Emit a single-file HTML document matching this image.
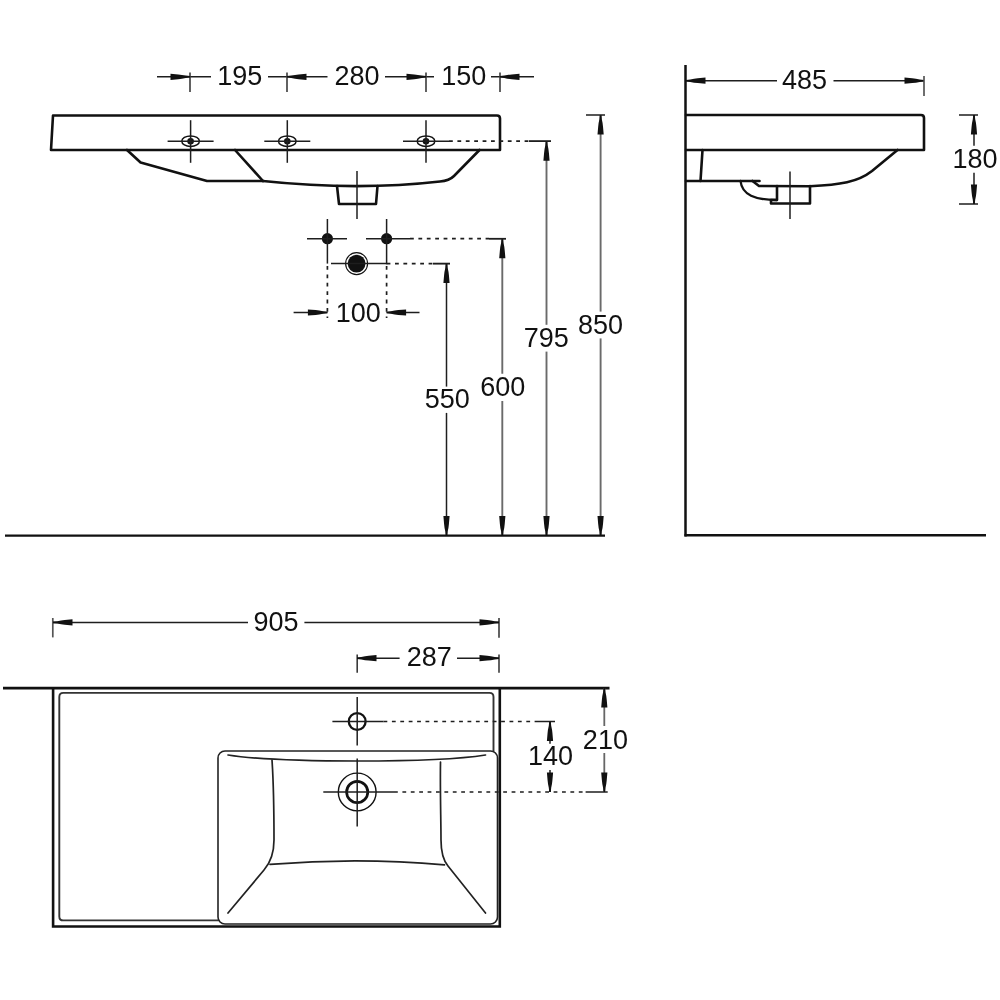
<!DOCTYPE html>
<html><head><meta charset="utf-8"><style>
html,body{margin:0;padding:0;background:#fff;width:1000px;height:1000px;overflow:hidden}
svg{display:block;will-change:transform}
text{font-family:"Liberation Sans",sans-serif}
</style></head><body>
<svg width="1000" height="1000" viewBox="0 0 1000 1000">
<rect width="1000" height="1000" fill="#fff"/>
<path d="M53,115.5 L497,115.5 Q500,115.5 500,118.5 L500,150 L51,150 Z" stroke="#111" stroke-width="2.6" fill="none" stroke-linejoin="round" stroke-linecap="round"/>
<path d="M127,150 L140.6,162.5 L207,181 L263,181" stroke="#111" stroke-width="2.6" fill="none" stroke-linejoin="round" stroke-linecap="round"/>
<path d="M235,150 L263,181" stroke="#111" stroke-width="2.6" fill="none" stroke-linejoin="round" stroke-linecap="round"/>
<path d="M263,181 Q357,191 440,181.5 C446,181 450,180 454,176 L479.5,150" stroke="#111" stroke-width="2.6" fill="none" stroke-linejoin="round" stroke-linecap="round"/>
<path d="M337,186 L339,204 L376,204 L377.5,186" stroke="#111" stroke-width="2.6" fill="none" stroke-linejoin="round" stroke-linecap="round"/>
<line x1="357" y1="171" x2="357" y2="219" stroke="#1e1e1e" stroke-width="1.5" stroke-linecap="butt"/>
<ellipse cx="190.6" cy="141.2" rx="8.8" ry="5.3" stroke="#111" stroke-width="1.5" fill="none"/>
<circle cx="190.6" cy="141.2" r="3.3" stroke="#111" stroke-width="0" fill="#111"/>
<line x1="167.6" y1="141.2" x2="213.6" y2="141.2" stroke="#1e1e1e" stroke-width="1.5" stroke-linecap="butt"/>
<line x1="190.6" y1="120.2" x2="190.6" y2="162.8" stroke="#1e1e1e" stroke-width="1.5" stroke-linecap="butt"/>
<ellipse cx="287.3" cy="141.2" rx="8.8" ry="5.3" stroke="#111" stroke-width="1.5" fill="none"/>
<circle cx="287.3" cy="141.2" r="3.3" stroke="#111" stroke-width="0" fill="#111"/>
<line x1="264.3" y1="141.2" x2="310.3" y2="141.2" stroke="#1e1e1e" stroke-width="1.5" stroke-linecap="butt"/>
<line x1="287.3" y1="120.2" x2="287.3" y2="162.8" stroke="#1e1e1e" stroke-width="1.5" stroke-linecap="butt"/>
<ellipse cx="426" cy="141.2" rx="8.8" ry="5.3" stroke="#111" stroke-width="1.5" fill="none"/>
<circle cx="426" cy="141.2" r="3.3" stroke="#111" stroke-width="0" fill="#111"/>
<line x1="403" y1="141.2" x2="449" y2="141.2" stroke="#1e1e1e" stroke-width="1.5" stroke-linecap="butt"/>
<line x1="426" y1="120.2" x2="426" y2="162.8" stroke="#1e1e1e" stroke-width="1.5" stroke-linecap="butt"/>
<line x1="449" y1="141.2" x2="529" y2="141.2" stroke="#1e1e1e" stroke-width="1.7" stroke-linecap="butt" stroke-dasharray="3.8 4.6"/>
<line x1="529" y1="141.2" x2="551" y2="141.2" stroke="#1e1e1e" stroke-width="1.5" stroke-linecap="butt"/>
<line x1="157" y1="76.8" x2="211" y2="76.8" stroke="#1e1e1e" stroke-width="1.5" stroke-linecap="butt"/>
<line x1="268" y1="76.8" x2="327.5" y2="76.8" stroke="#1e1e1e" stroke-width="1.5" stroke-linecap="butt"/>
<line x1="385" y1="76.8" x2="434" y2="76.8" stroke="#1e1e1e" stroke-width="1.5" stroke-linecap="butt"/>
<line x1="491" y1="76.8" x2="534" y2="76.8" stroke="#1e1e1e" stroke-width="1.5" stroke-linecap="butt"/>
<line x1="190" y1="72.4" x2="190" y2="92" stroke="#3a3a3a" stroke-width="1.6" stroke-linecap="butt"/>
<line x1="287" y1="72.4" x2="287" y2="92" stroke="#3a3a3a" stroke-width="1.6" stroke-linecap="butt"/>
<line x1="426" y1="72.4" x2="426" y2="92" stroke="#3a3a3a" stroke-width="1.6" stroke-linecap="butt"/>
<line x1="500" y1="72.4" x2="500" y2="92" stroke="#3a3a3a" stroke-width="1.6" stroke-linecap="butt"/>
<path d="M0,-0.8 L4.29,-1.2 Q8.19,-2.17 11.70,-2.42 L19.5,-3.10 L19.5,3.10 L11.70,2.42 Q8.19,2.17 4.29,1.2 L0,0.8Z" fill="#111" transform="translate(190,76.8) rotate(180.0)"/>
<path d="M0,-0.8 L4.29,-1.2 Q8.19,-2.17 11.70,-2.42 L19.5,-3.10 L19.5,3.10 L11.70,2.42 Q8.19,2.17 4.29,1.2 L0,0.8Z" fill="#111" transform="translate(287,76.8) rotate(0.0)"/>
<path d="M0,-0.8 L4.29,-1.2 Q8.19,-2.17 11.70,-2.42 L19.5,-3.10 L19.5,3.10 L11.70,2.42 Q8.19,2.17 4.29,1.2 L0,0.8Z" fill="#111" transform="translate(426,76.8) rotate(180.0)"/>
<path d="M0,-0.8 L4.29,-1.2 Q8.19,-2.17 11.70,-2.42 L19.5,-3.10 L19.5,3.10 L11.70,2.42 Q8.19,2.17 4.29,1.2 L0,0.8Z" fill="#111" transform="translate(500,76.8) rotate(0.0)"/>
<text x="239.7" y="85.2" text-anchor="middle" font-family="Liberation Sans" font-size="27" fill="#111">195</text>
<text x="357" y="85.2" text-anchor="middle" font-family="Liberation Sans" font-size="27" fill="#111">280</text>
<text x="463.75" y="85.2" text-anchor="middle" font-family="Liberation Sans" font-size="27" fill="#111">150</text>
<circle cx="327.4" cy="238.7" r="5.6" stroke="#111" stroke-width="0" fill="#111"/>
<circle cx="386.6" cy="238.7" r="5.6" stroke="#111" stroke-width="0" fill="#111"/>
<line x1="307" y1="238.7" x2="347" y2="238.7" stroke="#1e1e1e" stroke-width="1.5" stroke-linecap="butt"/>
<line x1="366" y1="238.7" x2="410" y2="238.7" stroke="#1e1e1e" stroke-width="1.5" stroke-linecap="butt"/>
<line x1="410" y1="238.7" x2="489" y2="238.7" stroke="#1e1e1e" stroke-width="1.7" stroke-linecap="butt" stroke-dasharray="3.8 4.6"/>
<line x1="489" y1="238.7" x2="506" y2="238.7" stroke="#1e1e1e" stroke-width="1.5" stroke-linecap="butt"/>
<line x1="327.4" y1="219" x2="327.4" y2="263.6" stroke="#1e1e1e" stroke-width="1.5" stroke-linecap="butt"/>
<line x1="386.6" y1="219" x2="386.6" y2="264.3" stroke="#1e1e1e" stroke-width="1.5" stroke-linecap="butt"/>
<line x1="327.4" y1="266" x2="327.4" y2="318" stroke="#1e1e1e" stroke-width="1.7" stroke-linecap="butt" stroke-dasharray="3.8 4.6"/>
<line x1="386.6" y1="266" x2="386.6" y2="318" stroke="#1e1e1e" stroke-width="1.7" stroke-linecap="butt" stroke-dasharray="3.8 4.6"/>
<circle cx="356.6" cy="263.6" r="11.0" stroke="#111" stroke-width="1.1" fill="none"/>
<circle cx="356.6" cy="263.6" r="8.9" stroke="#111" stroke-width="0" fill="#111"/>
<line x1="331" y1="263.6" x2="386.6" y2="263.6" stroke="#1e1e1e" stroke-width="1.5" stroke-linecap="butt"/>
<line x1="386.6" y1="263.6" x2="433" y2="263.6" stroke="#1e1e1e" stroke-width="1.7" stroke-linecap="butt" stroke-dasharray="3.8 4.6"/>
<line x1="433" y1="263.6" x2="450" y2="263.6" stroke="#1e1e1e" stroke-width="1.5" stroke-linecap="butt"/>
<line x1="293.6" y1="312.5" x2="327.4" y2="312.5" stroke="#1e1e1e" stroke-width="1.5" stroke-linecap="butt"/>
<line x1="386.6" y1="312.5" x2="419.5" y2="312.5" stroke="#1e1e1e" stroke-width="1.5" stroke-linecap="butt"/>
<path d="M0,-0.8 L4.29,-1.2 Q8.19,-2.17 11.70,-2.42 L19.5,-3.10 L19.5,3.10 L11.70,2.42 Q8.19,2.17 4.29,1.2 L0,0.8Z" fill="#111" transform="translate(327.4,312.5) rotate(180.0)"/>
<path d="M0,-0.8 L4.29,-1.2 Q8.19,-2.17 11.70,-2.42 L19.5,-3.10 L19.5,3.10 L11.70,2.42 Q8.19,2.17 4.29,1.2 L0,0.8Z" fill="#111" transform="translate(386.6,312.5) rotate(0.0)"/>
<text x="358.2" y="321.6" text-anchor="middle" font-family="Liberation Sans" font-size="27" fill="#111">100</text>
<line x1="446.5" y1="263.6" x2="446.5" y2="386.6" stroke="#1e1e1e" stroke-width="1.5" stroke-linecap="butt"/>
<line x1="446.5" y1="412.9" x2="446.5" y2="535.6" stroke="#1e1e1e" stroke-width="1.5" stroke-linecap="butt"/>
<path d="M0,-0.8 L4.29,-1.2 Q8.19,-2.17 11.70,-2.42 L19.5,-3.10 L19.5,3.10 L11.70,2.42 Q8.19,2.17 4.29,1.2 L0,0.8Z" fill="#111" transform="translate(446.5,263.6) rotate(90.0)"/>
<path d="M0,-0.8 L4.29,-1.2 Q8.19,-2.17 11.70,-2.42 L19.5,-3.10 L19.5,3.10 L11.70,2.42 Q8.19,2.17 4.29,1.2 L0,0.8Z" fill="#111" transform="translate(446.5,535.6) rotate(-90.0)"/>
<line x1="433" y1="263.6" x2="450" y2="263.6" stroke="#1e1e1e" stroke-width="1.5" stroke-linecap="butt"/>
<text x="447.2" y="407.6" text-anchor="middle" font-family="Liberation Sans" font-size="27" fill="#111">550</text>
<line x1="502.3" y1="238.7" x2="502.3" y2="373.75" stroke="#6a6a6a" stroke-width="1.9" stroke-linecap="butt"/>
<line x1="502.3" y1="401" x2="502.3" y2="535.6" stroke="#6a6a6a" stroke-width="1.9" stroke-linecap="butt"/>
<path d="M0,-0.8 L4.29,-1.2 Q8.19,-2.17 11.70,-2.42 L19.5,-3.10 L19.5,3.10 L11.70,2.42 Q8.19,2.17 4.29,1.2 L0,0.8Z" fill="#111" transform="translate(502.3,238.7) rotate(90.0)"/>
<path d="M0,-0.8 L4.29,-1.2 Q8.19,-2.17 11.70,-2.42 L19.5,-3.10 L19.5,3.10 L11.70,2.42 Q8.19,2.17 4.29,1.2 L0,0.8Z" fill="#111" transform="translate(502.3,535.6) rotate(-90.0)"/>
<line x1="489" y1="238.7" x2="506" y2="238.7" stroke="#1e1e1e" stroke-width="1.5" stroke-linecap="butt"/>
<text x="502.7" y="395.8" text-anchor="middle" font-family="Liberation Sans" font-size="27" fill="#111">600</text>
<line x1="546.5" y1="141.2" x2="546.5" y2="324.8" stroke="#6a6a6a" stroke-width="1.9" stroke-linecap="butt"/>
<line x1="546.5" y1="351.6" x2="546.5" y2="535.6" stroke="#6a6a6a" stroke-width="1.9" stroke-linecap="butt"/>
<path d="M0,-0.8 L4.29,-1.2 Q8.19,-2.17 11.70,-2.42 L19.5,-3.10 L19.5,3.10 L11.70,2.42 Q8.19,2.17 4.29,1.2 L0,0.8Z" fill="#111" transform="translate(546.5,141.2) rotate(90.0)"/>
<path d="M0,-0.8 L4.29,-1.2 Q8.19,-2.17 11.70,-2.42 L19.5,-3.10 L19.5,3.10 L11.70,2.42 Q8.19,2.17 4.29,1.2 L0,0.8Z" fill="#111" transform="translate(546.5,535.6) rotate(-90.0)"/>
<line x1="529" y1="141.2" x2="551" y2="141.2" stroke="#1e1e1e" stroke-width="1.5" stroke-linecap="butt"/>
<text x="546.3" y="346.5" text-anchor="middle" font-family="Liberation Sans" font-size="27" fill="#111">795</text>
<line x1="600.6" y1="115" x2="600.6" y2="311.6" stroke="#6a6a6a" stroke-width="1.9" stroke-linecap="butt"/>
<line x1="600.6" y1="338.4" x2="600.6" y2="535.6" stroke="#6a6a6a" stroke-width="1.9" stroke-linecap="butt"/>
<path d="M0,-0.8 L4.29,-1.2 Q8.19,-2.17 11.70,-2.42 L19.5,-3.10 L19.5,3.10 L11.70,2.42 Q8.19,2.17 4.29,1.2 L0,0.8Z" fill="#111" transform="translate(600.6,115) rotate(90.0)"/>
<path d="M0,-0.8 L4.29,-1.2 Q8.19,-2.17 11.70,-2.42 L19.5,-3.10 L19.5,3.10 L11.70,2.42 Q8.19,2.17 4.29,1.2 L0,0.8Z" fill="#111" transform="translate(600.6,535.6) rotate(-90.0)"/>
<line x1="586" y1="115" x2="605" y2="115" stroke="#1e1e1e" stroke-width="1.5" stroke-linecap="butt"/>
<text x="600.5" y="333.7" text-anchor="middle" font-family="Liberation Sans" font-size="27" fill="#111">850</text>
<line x1="5" y1="535.6" x2="605" y2="535.6" stroke="#111" stroke-width="2.4" stroke-linecap="butt"/>
<line x1="685.5" y1="65" x2="685.5" y2="536.5" stroke="#111" stroke-width="2.5" stroke-linecap="butt"/>
<line x1="684.5" y1="535.3" x2="986" y2="535.3" stroke="#111" stroke-width="2.5" stroke-linecap="butt"/>
<path d="M686,115 L921,115 Q924,115 924,118 L924,150 L686,150" stroke="#111" stroke-width="2.6" fill="none" stroke-linejoin="round" stroke-linecap="round"/>
<path d="M702.5,150 L700.5,181" stroke="#111" stroke-width="2.6" fill="none" stroke-linejoin="round" stroke-linecap="round"/>
<path d="M686,181 L759.5,181" stroke="#111" stroke-width="2.6" fill="none" stroke-linejoin="round" stroke-linecap="round"/>
<path d="M752.5,181 L759,186 L810,186.2 C840,185 858,182 872,171 L897.5,150" stroke="#111" stroke-width="2.6" fill="none" stroke-linejoin="round" stroke-linecap="round"/>
<path d="M740.5,181 C742,195 755,200 777,200" stroke="#111" stroke-width="2.3" fill="none" stroke-linejoin="round" stroke-linecap="round"/>
<path d="M777,186 L777,200 L771,200 L771,203.5 L810,203.5 L810,186" stroke="#111" stroke-width="2.6" fill="none" stroke-linejoin="round" stroke-linecap="round"/>
<line x1="790" y1="171.5" x2="790" y2="219" stroke="#1e1e1e" stroke-width="1.5" stroke-linecap="butt"/>
<line x1="686" y1="80.7" x2="777" y2="80.7" stroke="#1e1e1e" stroke-width="1.5" stroke-linecap="butt"/>
<line x1="833.5" y1="80.7" x2="924" y2="80.7" stroke="#1e1e1e" stroke-width="1.5" stroke-linecap="butt"/>
<path d="M0,-0.8 L4.29,-1.2 Q8.19,-2.17 11.70,-2.42 L19.5,-3.10 L19.5,3.10 L11.70,2.42 Q8.19,2.17 4.29,1.2 L0,0.8Z" fill="#111" transform="translate(686,80.7) rotate(0.0)"/>
<path d="M0,-0.8 L4.29,-1.2 Q8.19,-2.17 11.70,-2.42 L19.5,-3.10 L19.5,3.10 L11.70,2.42 Q8.19,2.17 4.29,1.2 L0,0.8Z" fill="#111" transform="translate(924,80.7) rotate(180.0)"/>
<line x1="924" y1="76" x2="924" y2="96" stroke="#4a4a4a" stroke-width="1.6" stroke-linecap="butt"/>
<text x="804.5" y="88.7" text-anchor="middle" font-family="Liberation Sans" font-size="27" fill="#111">485</text>
<line x1="959" y1="115" x2="978" y2="115" stroke="#1e1e1e" stroke-width="1.5" stroke-linecap="butt"/>
<line x1="959" y1="204" x2="978" y2="204" stroke="#1e1e1e" stroke-width="1.5" stroke-linecap="butt"/>
<line x1="974" y1="115" x2="974" y2="145.7" stroke="#1e1e1e" stroke-width="1.5" stroke-linecap="butt"/>
<line x1="974" y1="172.7" x2="974" y2="204" stroke="#1e1e1e" stroke-width="1.5" stroke-linecap="butt"/>
<path d="M0,-0.8 L4.29,-1.2 Q8.19,-2.17 11.70,-2.42 L19.5,-3.10 L19.5,3.10 L11.70,2.42 Q8.19,2.17 4.29,1.2 L0,0.8Z" fill="#111" transform="translate(974,115) rotate(90.0)"/>
<path d="M0,-0.8 L4.29,-1.2 Q8.19,-2.17 11.70,-2.42 L19.5,-3.10 L19.5,3.10 L11.70,2.42 Q8.19,2.17 4.29,1.2 L0,0.8Z" fill="#111" transform="translate(974,204) rotate(-90.0)"/>
<text x="975.1" y="167.9" text-anchor="middle" font-family="Liberation Sans" font-size="27" fill="#111">180</text>
<line x1="3" y1="688.1" x2="609.5" y2="688.1" stroke="#111" stroke-width="2.7" stroke-linecap="butt"/>
<path d="M53.1,688 L53.1,926.5 L499.8,926.5 L499.8,688" stroke="#111" stroke-width="2.6" fill="none" stroke-linejoin="miter" stroke-linecap="butt"/>
<path d="M218,920.4 L63.3,920.4 Q59.3,920.4 59.3,916.4 L59.3,696.9 Q59.3,692.9 63.3,692.9 L489.5,692.9 Q493.5,692.9 493.5,696.9 L493.5,751" stroke="#333" stroke-width="1.9" fill="none" stroke-linejoin="round" stroke-linecap="round"/>
<rect x="218" y="751" width="279.5" height="173" rx="7" ry="7" stroke="#222" stroke-width="1.6" fill="none"/>
<path d="M228,755 C260,760 300,761 357,761 C414,761 454,760 485.5,755" stroke="#222" stroke-width="1.7" fill="none" stroke-linejoin="round" stroke-linecap="round"/>
<path d="M272,760 C274,790 274,820 274,840 C274,852 271,862 264,870 L228,913" stroke="#222" stroke-width="1.7" fill="none" stroke-linejoin="round" stroke-linecap="round"/>
<path d="M440.5,762 C440,790 441,820 441,840 C441,852 443,860 448,866 L485.5,913" stroke="#222" stroke-width="1.7" fill="none" stroke-linejoin="round" stroke-linecap="round"/>
<path d="M270,864.4 Q357,857 444.5,864.8" stroke="#222" stroke-width="1.7" fill="none" stroke-linejoin="round" stroke-linecap="round"/>
<circle cx="357.2" cy="721.5" r="8.4" stroke="#111" stroke-width="2.3" fill="none"/>
<line x1="332.4" y1="721.5" x2="383.5" y2="721.5" stroke="#1e1e1e" stroke-width="1.5" stroke-linecap="butt"/>
<line x1="357.2" y1="697" x2="357.2" y2="745.6" stroke="#1e1e1e" stroke-width="1.5" stroke-linecap="butt"/>
<line x1="383.5" y1="721.5" x2="534.6" y2="721.5" stroke="#1e1e1e" stroke-width="1.7" stroke-linecap="butt" stroke-dasharray="3.8 4.6"/>
<line x1="534.6" y1="721.5" x2="555" y2="721.5" stroke="#1e1e1e" stroke-width="1.5" stroke-linecap="butt"/>
<circle cx="357.2" cy="792" r="18.9" stroke="#111" stroke-width="1.4" fill="none"/>
<circle cx="357.2" cy="792" r="10.6" stroke="#111" stroke-width="2.7" fill="none"/>
<line x1="323.3" y1="792" x2="394" y2="792" stroke="#1e1e1e" stroke-width="1.5" stroke-linecap="butt"/>
<line x1="357.2" y1="758.6" x2="357.2" y2="826.5" stroke="#1e1e1e" stroke-width="1.5" stroke-linecap="butt"/>
<line x1="394" y1="792" x2="585.6" y2="792" stroke="#1e1e1e" stroke-width="1.7" stroke-linecap="butt" stroke-dasharray="3.8 4.6"/>
<line x1="585.6" y1="792" x2="607.7" y2="792" stroke="#1e1e1e" stroke-width="1.5" stroke-linecap="butt"/>
<line x1="52.8" y1="618" x2="52.8" y2="637.4" stroke="#555" stroke-width="1.7" stroke-linecap="butt"/>
<line x1="499" y1="618" x2="499" y2="637.8" stroke="#3a3a3a" stroke-width="1.6" stroke-linecap="butt"/>
<line x1="53" y1="622.4" x2="248" y2="622.4" stroke="#1e1e1e" stroke-width="1.5" stroke-linecap="butt"/>
<line x1="304.4" y1="622.4" x2="499" y2="622.4" stroke="#1e1e1e" stroke-width="1.5" stroke-linecap="butt"/>
<path d="M0,-0.8 L4.29,-1.2 Q8.19,-2.17 11.70,-2.42 L19.5,-3.10 L19.5,3.10 L11.70,2.42 Q8.19,2.17 4.29,1.2 L0,0.8Z" fill="#111" transform="translate(53,622.4) rotate(0.0)"/>
<path d="M0,-0.8 L4.29,-1.2 Q8.19,-2.17 11.70,-2.42 L19.5,-3.10 L19.5,3.10 L11.70,2.42 Q8.19,2.17 4.29,1.2 L0,0.8Z" fill="#111" transform="translate(499,622.4) rotate(180.0)"/>
<text x="276.1" y="630.5" text-anchor="middle" font-family="Liberation Sans" font-size="27" fill="#111">905</text>
<line x1="357.2" y1="654.6" x2="357.2" y2="672.8" stroke="#3a3a3a" stroke-width="1.6" stroke-linecap="butt"/>
<line x1="499" y1="654.6" x2="499" y2="672.8" stroke="#3a3a3a" stroke-width="1.6" stroke-linecap="butt"/>
<line x1="357" y1="658.2" x2="399.6" y2="658.2" stroke="#1e1e1e" stroke-width="1.5" stroke-linecap="butt"/>
<line x1="457" y1="658.2" x2="499" y2="658.2" stroke="#1e1e1e" stroke-width="1.5" stroke-linecap="butt"/>
<path d="M0,-0.8 L4.29,-1.2 Q8.19,-2.17 11.70,-2.42 L19.5,-3.10 L19.5,3.10 L11.70,2.42 Q8.19,2.17 4.29,1.2 L0,0.8Z" fill="#111" transform="translate(357,658.2) rotate(0.0)"/>
<path d="M0,-0.8 L4.29,-1.2 Q8.19,-2.17 11.70,-2.42 L19.5,-3.10 L19.5,3.10 L11.70,2.42 Q8.19,2.17 4.29,1.2 L0,0.8Z" fill="#111" transform="translate(499,658.2) rotate(180.0)"/>
<text x="429.2" y="665.5" text-anchor="middle" font-family="Liberation Sans" font-size="27" fill="#111">287</text>
<line x1="550" y1="721.4" x2="550" y2="743.75" stroke="#1e1e1e" stroke-width="1.5" stroke-linecap="butt"/>
<line x1="550" y1="770" x2="550" y2="792" stroke="#1e1e1e" stroke-width="1.5" stroke-linecap="butt"/>
<path d="M0,-0.8 L4.29,-1.2 Q8.19,-2.17 11.70,-2.42 L19.5,-3.10 L19.5,3.10 L11.70,2.42 Q8.19,2.17 4.29,1.2 L0,0.8Z" fill="#111" transform="translate(550,721.4) rotate(90.0)"/>
<path d="M0,-0.8 L4.29,-1.2 Q8.19,-2.17 11.70,-2.42 L19.5,-3.10 L19.5,3.10 L11.70,2.42 Q8.19,2.17 4.29,1.2 L0,0.8Z" fill="#111" transform="translate(550,792) rotate(-90.0)"/>
<text x="550.5" y="764.7" text-anchor="middle" font-family="Liberation Sans" font-size="27" fill="#111">140</text>
<line x1="604.3" y1="688" x2="604.3" y2="726" stroke="#666" stroke-width="1.8" stroke-linecap="butt"/>
<line x1="604.3" y1="753" x2="604.3" y2="792" stroke="#666" stroke-width="1.8" stroke-linecap="butt"/>
<path d="M0,-0.8 L4.29,-1.2 Q8.19,-2.17 11.70,-2.42 L19.5,-3.10 L19.5,3.10 L11.70,2.42 Q8.19,2.17 4.29,1.2 L0,0.8Z" fill="#111" transform="translate(604.3,688) rotate(90.0)"/>
<path d="M0,-0.8 L4.29,-1.2 Q8.19,-2.17 11.70,-2.42 L19.5,-3.10 L19.5,3.10 L11.70,2.42 Q8.19,2.17 4.29,1.2 L0,0.8Z" fill="#111" transform="translate(604.3,792) rotate(-90.0)"/>
<text x="605.4" y="748.7" text-anchor="middle" font-family="Liberation Sans" font-size="27" fill="#111">210</text>
</svg></body></html>
